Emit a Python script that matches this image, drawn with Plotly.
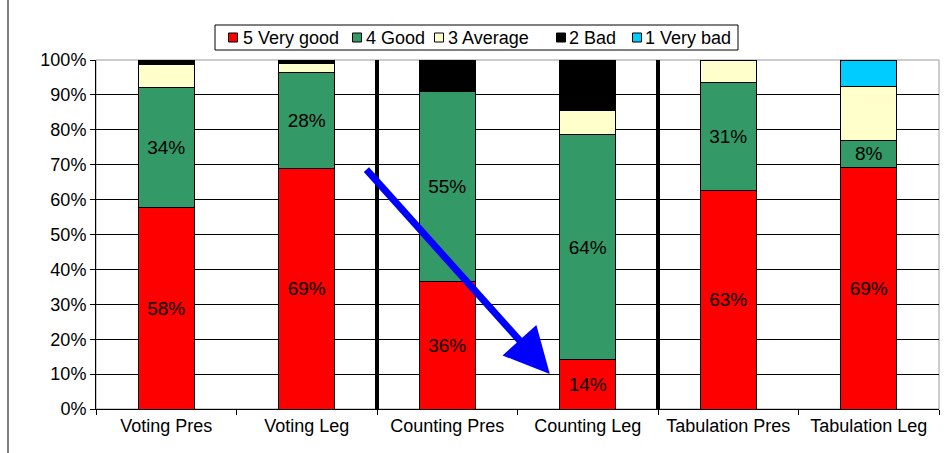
import plotly.graph_objects as go

categories = ["Voting Pres", "Voting Leg", "Counting Pres", "Counting Leg", "Tabulation Pres", "Tabulation Leg"]
very_good = [57.7, 68.8, 36.4, 14.2, 62.6, 69.2]
good = [34.4, 27.6, 54.6, 64.4, 31.0, 7.8]
average = [6.5, 2.5, 0.0, 7.0, 6.4, 15.3]
bad = [1.4, 1.1, 9.0, 14.4, 0.0, 0.0]
very_bad = [0.0, 0.0, 0.0, 0.0, 0.0, 7.7]
series_names = ["5 Very good", "4 Good", "3 Average", "2 Bad", "1 Very bad"]
series_colors = ["#FF0000", "#339966", "#FFFFCC", "#000000", "#00CCFF"]
y_ticks = [0, 10, 20, 30, 40, 50, 60, 70, 80, 90, 100]
y_tick_labels = [f"{v}%" for v in y_ticks]
separators = [1.5, 3.5]
arrow_start = (1.415, 69.0)
arrow_end = (2.73, 10.0)

W, H = 946, 453
ML, MR, MT, MB = 96, 7, 60, 44
PW, PH = W - ML - MR, H - MT - MB


def px_x(px):
    return (px - ML) / PW


def px_y(py):
    return (H - MB - py) / PH


FONT = "Liberation Sans, Arial, sans-serif"
fig = go.Figure()
xs = list(range(len(categories)))
values = [very_good, good, average, bad, very_bad]
for i, (name, vals, color) in enumerate(zip(series_names, values, series_colors)):
    lab = i < 2
    fig.add_trace(go.Bar(
        x=xs, y=vals, name=name, width=0.4, showlegend=False,
        marker=dict(color=color, line=dict(color="black", width=1)),
        texttemplate="%{y:.0f}%" if lab else None,
        textposition="inside" if lab else "none",
        insidetextanchor="middle",
        textfont=dict(family=FONT, size=19, color="black"),
        hoverinfo="skip",
    ))

shapes = []
for s in separators:
    shapes.append(dict(type="line", xref="x", yref="y", x0=s, x1=s, y0=-1.8, y1=100,
                       line=dict(color="black", width=4)))
shapes.append(dict(type="line", xref="paper", yref="paper", x0=px_x(8), x1=px_x(8),
                   y0=px_y(H), y1=px_y(0), line=dict(color="black", width=1)))
shapes.append(dict(type="rect", xref="paper", yref="paper", x0=0, x1=1, y0=0, y1=1,
                   line=dict(color="#999999", width=1), layer="below"))

leg_box = (215, 25, 738, 50)
shapes.append(dict(type="rect", xref="paper", yref="paper",
                   x0=px_x(leg_box[0]), x1=px_x(leg_box[2]),
                   y0=px_y(leg_box[3]), y1=px_y(leg_box[1]),
                   line=dict(color="black", width=1), fillcolor="white"))
sq_centers = [233, 357, 439, 561, 637]
text_lefts = [241, 364, 446, 567, 643]
ly = 37.5
annotations = []
for name, color, sc, tl in zip(series_names, series_colors, sq_centers, text_lefts):
    shapes.append(dict(type="rect", xref="paper", yref="paper",
                       x0=px_x(sc - 4.5), x1=px_x(sc + 4.5),
                       y0=px_y(ly + 4.5), y1=px_y(ly - 4.5),
                       line=dict(color="black", width=1), fillcolor=color))
    annotations.append(dict(xref="paper", yref="paper", x=px_x(tl), y=px_y(ly),
                            xanchor="left", yanchor="middle", text=name, showarrow=False,
                            font=dict(family=FONT, size=18, color="black")))

annotations.append(dict(x=arrow_end[0], y=arrow_end[1], ax=arrow_start[0], ay=arrow_start[1],
                        xref="x", yref="y", axref="x", ayref="y", text="", showarrow=True,
                        arrowhead=2, arrowsize=1.3, arrowwidth=7, arrowcolor="#0000FF"))

fig.update_layout(
    barmode="stack",
    width=W, height=H,
    margin=dict(l=ML, r=MR, t=MT, b=MB, autoexpand=False),
    paper_bgcolor="white", plot_bgcolor="white",
    font=dict(family=FONT, size=18, color="black"),
    showlegend=False,
    hovermode=False,
    xaxis=dict(tickmode="array", tickvals=xs, ticktext=categories, range=[-0.5, 5.5],
               showline=True, linecolor="black", linewidth=1, ticks="", showgrid=False,
               zeroline=False, automargin=False, tickfont=dict(size=18)),
    yaxis=dict(range=[0, 100], tickvals=y_ticks, ticktext=y_tick_labels,
               showline=True, linecolor="black", linewidth=1, ticks="outside",
               ticklen=5, tickcolor="black", showgrid=True, gridcolor="black",
               gridwidth=1, zeroline=False, automargin=False, tickfont=dict(size=18)),
    shapes=shapes,
    annotations=annotations,
)
fig.update_xaxes(minor=dict(tickvals=[-0.5, 0.5, 1.5, 2.5, 3.5, 4.5, 5.5], ticks="outside",
                            ticklen=5, tickcolor="black", showgrid=False))

fig.write_html("out.html", config={"displayModeBar": False},
               post_script="document.body.style.margin='0px';document.body.style.padding='0px';")
